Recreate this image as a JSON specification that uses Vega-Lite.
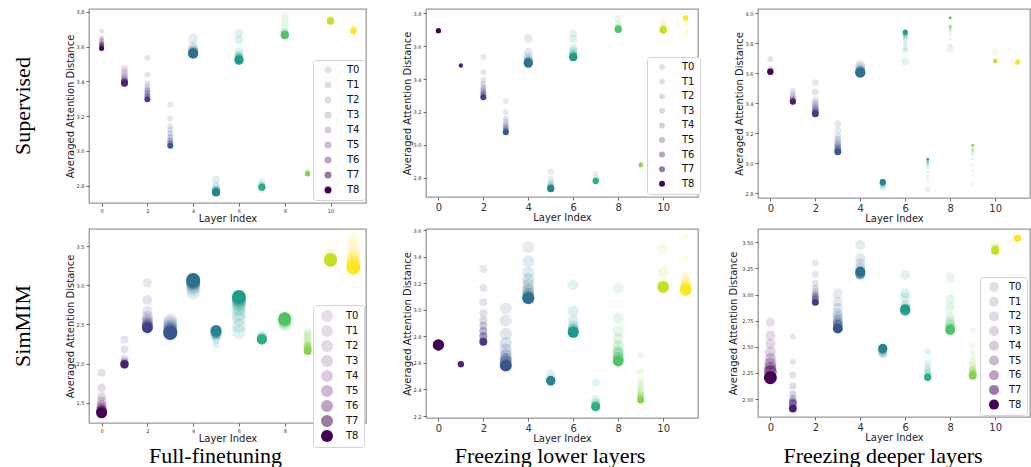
{
"$schema": "https://vega.github.io/schema/vega-lite/v6.json",
"background": "white",
"padding": {"left": 11, "top": 8, "right": 0, "bottom": 0},
"config": {
  "font": "DejaVu Sans",
  "view": {"stroke": "#9a9a9a", "strokeWidth": 1.3},
  "axis": {"domain": false, "grid": false, "tickColor": "#444", "tickSize": 3, "tickWidth": 0.8, "labelColor": "#333", "labelFontSize": 5, "labelPadding": 2, "titleFontSize": 10, "titleFontWeight": "normal", "titleColor": "#222", "titlePadding": 1},
  "legend": {"orient": "none", "strokeColor": "#d4d4d4", "fillColor": "white", "cornerRadius": 3, "padding": 5, "labelFontSize": 10, "labelColor": "#111", "symbolType": "circle", "symbolFillColor": "#440154", "symbolStrokeWidth": 0}
},
"resolve": {"scale": {"opacity": "independent", "color": "independent", "size": "independent"}, "legend": {"opacity": "independent"}},
"datasets": {
"p1": [
{"l":0,"t":"T0","d":3.69,"s":5},{"l":0,"t":"T1","d":3.65,"s":5},{"l":0,"t":"T2","d":3.64,"s":5},{"l":0,"t":"T3","d":3.63,"s":5},{"l":0,"t":"T4","d":3.62,"s":5},{"l":0,"t":"T5","d":3.615,"s":5},{"l":0,"t":"T6","d":3.61,"s":5},{"l":0,"t":"T7","d":3.6,"s":5},{"l":0,"t":"T8","d":3.59,"s":5},
{"l":1,"t":"T0","d":3.475,"s":7},{"l":1,"t":"T1","d":3.455,"s":7},{"l":1,"t":"T2","d":3.44,"s":7},{"l":1,"t":"T3","d":3.425,"s":7},{"l":1,"t":"T4","d":3.415,"s":7},{"l":1,"t":"T5","d":3.405,"s":7},{"l":1,"t":"T6","d":3.4,"s":7},{"l":1,"t":"T7","d":3.395,"s":7},{"l":1,"t":"T8","d":3.39,"s":7},
{"l":2,"t":"T0","d":3.537,"s":6},{"l":2,"t":"T1","d":3.44,"s":6},{"l":2,"t":"T2","d":3.39,"s":6},{"l":2,"t":"T3","d":3.37,"s":6},{"l":2,"t":"T4","d":3.355,"s":6},{"l":2,"t":"T5","d":3.345,"s":6},{"l":2,"t":"T6","d":3.33,"s":6},{"l":2,"t":"T7","d":3.315,"s":6},{"l":2,"t":"T8","d":3.298,"s":6},
{"l":3,"t":"T0","d":3.265,"s":6},{"l":3,"t":"T1","d":3.187,"s":6},{"l":3,"t":"T2","d":3.14,"s":6},{"l":3,"t":"T3","d":3.12,"s":6},{"l":3,"t":"T4","d":3.1,"s":6},{"l":3,"t":"T5","d":3.08,"s":6},{"l":3,"t":"T6","d":3.06,"s":6},{"l":3,"t":"T7","d":3.045,"s":6},{"l":3,"t":"T8","d":3.03,"s":6},
{"l":4,"t":"T0","d":3.645,"s":10},{"l":4,"t":"T1","d":3.6,"s":10},{"l":4,"t":"T2","d":3.585,"s":10},{"l":4,"t":"T3","d":3.575,"s":10},{"l":4,"t":"T4","d":3.57,"s":10},{"l":4,"t":"T5","d":3.567,"s":10},{"l":4,"t":"T6","d":3.565,"s":10},{"l":4,"t":"T7","d":3.562,"s":10},{"l":4,"t":"T8","d":3.56,"s":10},
{"l":5,"t":"T0","d":2.834,"s":8},{"l":5,"t":"T1","d":2.8,"s":8},{"l":5,"t":"T2","d":2.785,"s":8},{"l":5,"t":"T3","d":2.775,"s":8},{"l":5,"t":"T4","d":2.77,"s":8},{"l":5,"t":"T5","d":2.767,"s":8},{"l":5,"t":"T6","d":2.765,"s":8},{"l":5,"t":"T7","d":2.763,"s":8},{"l":5,"t":"T8","d":2.761,"s":8},
{"l":6,"t":"T0","d":3.677,"s":9},{"l":6,"t":"T1","d":3.639,"s":9},{"l":6,"t":"T2","d":3.57,"s":9},{"l":6,"t":"T3","d":3.55,"s":9},{"l":6,"t":"T4","d":3.54,"s":9},{"l":6,"t":"T5","d":3.535,"s":9},{"l":6,"t":"T6","d":3.53,"s":9},{"l":6,"t":"T7","d":3.525,"s":9},{"l":6,"t":"T8","d":3.522,"s":9},
{"l":7,"t":"T0","d":2.827,"s":7},{"l":7,"t":"T1","d":2.81,"s":7},{"l":7,"t":"T2","d":2.8,"s":7},{"l":7,"t":"T3","d":2.795,"s":7},{"l":7,"t":"T4","d":2.793,"s":7},{"l":7,"t":"T5","d":2.791,"s":7},{"l":7,"t":"T6","d":2.79,"s":7},{"l":7,"t":"T7","d":2.79,"s":7},{"l":7,"t":"T8","d":2.79,"s":7},
{"l":8,"t":"T0","d":3.767,"s":8},{"l":8,"t":"T1","d":3.723,"s":8},{"l":8,"t":"T2","d":3.685,"s":8},{"l":8,"t":"T3","d":3.68,"s":8},{"l":8,"t":"T4","d":3.675,"s":8},{"l":8,"t":"T5","d":3.672,"s":8},{"l":8,"t":"T6","d":3.67,"s":8},{"l":8,"t":"T7","d":3.668,"s":8},{"l":8,"t":"T8","d":3.666,"s":8},
{"l":9,"t":"T0","d":2.882,"s":5},{"l":9,"t":"T1","d":2.878,"s":5},{"l":9,"t":"T2","d":2.875,"s":5},{"l":9,"t":"T3","d":2.873,"s":5},{"l":9,"t":"T4","d":2.871,"s":5},{"l":9,"t":"T5","d":2.87,"s":5},{"l":9,"t":"T6","d":2.869,"s":5},{"l":9,"t":"T7","d":2.868,"s":5},{"l":9,"t":"T8","d":2.867,"s":5},
{"l":10,"t":"T0","d":3.76,"s":7},{"l":10,"t":"T1","d":3.755,"s":7},{"l":10,"t":"T2","d":3.752,"s":7},{"l":10,"t":"T3","d":3.75,"s":7},{"l":10,"t":"T4","d":3.749,"s":7},{"l":10,"t":"T5","d":3.748,"s":7},{"l":10,"t":"T6","d":3.748,"s":7},{"l":10,"t":"T7","d":3.748,"s":7},{"l":10,"t":"T8","d":3.748,"s":7},
{"l":11,"t":"T0","d":3.71,"s":6},{"l":11,"t":"T1","d":3.705,"s":6},{"l":11,"t":"T2","d":3.7,"s":6},{"l":11,"t":"T3","d":3.697,"s":6},{"l":11,"t":"T4","d":3.695,"s":6},{"l":11,"t":"T5","d":3.693,"s":6},{"l":11,"t":"T6","d":3.691,"s":6},{"l":11,"t":"T7","d":3.689,"s":6},{"l":11,"t":"T8","d":3.687,"s":6}
],
"p2": [
{"l":0,"t":"T0","d":3.694,"s":5},{"l":0,"t":"T1","d":3.694,"s":5},{"l":0,"t":"T2","d":3.694,"s":5},{"l":0,"t":"T3","d":3.694,"s":5},{"l":0,"t":"T4","d":3.694,"s":5},{"l":0,"t":"T5","d":3.694,"s":5},{"l":0,"t":"T6","d":3.694,"s":5},{"l":0,"t":"T7","d":3.694,"s":5},{"l":0,"t":"T8","d":3.694,"s":5},
{"l":1,"t":"T0","d":3.483,"s":4},{"l":1,"t":"T1","d":3.483,"s":4},{"l":1,"t":"T2","d":3.483,"s":4},{"l":1,"t":"T3","d":3.483,"s":4},{"l":1,"t":"T4","d":3.483,"s":4},{"l":1,"t":"T5","d":3.483,"s":4},{"l":1,"t":"T6","d":3.483,"s":4},{"l":1,"t":"T7","d":3.483,"s":4},{"l":1,"t":"T8","d":3.483,"s":4},
{"l":2,"t":"T0","d":3.536,"s":6},{"l":2,"t":"T1","d":3.443,"s":6},{"l":2,"t":"T2","d":3.395,"s":6},{"l":2,"t":"T3","d":3.37,"s":6},{"l":2,"t":"T4","d":3.35,"s":6},{"l":2,"t":"T5","d":3.335,"s":6},{"l":2,"t":"T6","d":3.32,"s":6},{"l":2,"t":"T7","d":3.305,"s":6},{"l":2,"t":"T8","d":3.289,"s":6},
{"l":3,"t":"T0","d":3.266,"s":6},{"l":3,"t":"T1","d":3.2,"s":6},{"l":3,"t":"T2","d":3.16,"s":6},{"l":3,"t":"T3","d":3.14,"s":6},{"l":3,"t":"T4","d":3.125,"s":6},{"l":3,"t":"T5","d":3.11,"s":6},{"l":3,"t":"T6","d":3.1,"s":6},{"l":3,"t":"T7","d":3.088,"s":6},{"l":3,"t":"T8","d":3.076,"s":6},
{"l":4,"t":"T0","d":3.648,"s":9},{"l":4,"t":"T1","d":3.563,"s":9},{"l":4,"t":"T2","d":3.537,"s":9},{"l":4,"t":"T3","d":3.52,"s":9},{"l":4,"t":"T4","d":3.512,"s":9},{"l":4,"t":"T5","d":3.506,"s":9},{"l":4,"t":"T6","d":3.502,"s":9},{"l":4,"t":"T7","d":3.499,"s":9},{"l":4,"t":"T8","d":3.496,"s":9},
{"l":5,"t":"T0","d":2.836,"s":7},{"l":5,"t":"T1","d":2.79,"s":7},{"l":5,"t":"T2","d":2.765,"s":7},{"l":5,"t":"T3","d":2.753,"s":7},{"l":5,"t":"T4","d":2.745,"s":7},{"l":5,"t":"T5","d":2.741,"s":7},{"l":5,"t":"T6","d":2.738,"s":7},{"l":5,"t":"T7","d":2.735,"s":7},{"l":5,"t":"T8","d":2.733,"s":7},
{"l":6,"t":"T0","d":3.678,"s":8},{"l":6,"t":"T1","d":3.643,"s":8},{"l":6,"t":"T2","d":3.59,"s":8},{"l":6,"t":"T3","d":3.57,"s":8},{"l":6,"t":"T4","d":3.556,"s":8},{"l":6,"t":"T5","d":3.548,"s":8},{"l":6,"t":"T6","d":3.54,"s":8},{"l":6,"t":"T7","d":3.536,"s":8},{"l":6,"t":"T8","d":3.532,"s":8},
{"l":7,"t":"T0","d":2.826,"s":6},{"l":7,"t":"T1","d":2.8,"s":6},{"l":7,"t":"T2","d":2.79,"s":6},{"l":7,"t":"T3","d":2.785,"s":6},{"l":7,"t":"T4","d":2.783,"s":6},{"l":7,"t":"T5","d":2.782,"s":6},{"l":7,"t":"T6","d":2.781,"s":6},{"l":7,"t":"T7","d":2.78,"s":6},{"l":7,"t":"T8","d":2.78,"s":6},
{"l":8,"t":"T0","d":3.769,"s":7},{"l":8,"t":"T1","d":3.735,"s":7},{"l":8,"t":"T2","d":3.715,"s":7},{"l":8,"t":"T3","d":3.71,"s":7},{"l":8,"t":"T4","d":3.707,"s":7},{"l":8,"t":"T5","d":3.705,"s":7},{"l":8,"t":"T6","d":3.704,"s":7},{"l":8,"t":"T7","d":3.703,"s":7},{"l":8,"t":"T8","d":3.702,"s":7},
{"l":9,"t":"T0","d":2.865,"s":4},{"l":9,"t":"T1","d":2.87,"s":4},{"l":9,"t":"T2","d":2.873,"s":4},{"l":9,"t":"T3","d":2.875,"s":4},{"l":9,"t":"T4","d":2.877,"s":4},{"l":9,"t":"T5","d":2.878,"s":4},{"l":9,"t":"T6","d":2.879,"s":4},{"l":9,"t":"T7","d":2.88,"s":4},{"l":9,"t":"T8","d":2.881,"s":4},
{"l":10,"t":"T0","d":3.745,"s":7},{"l":10,"t":"T1","d":3.72,"s":7},{"l":10,"t":"T2","d":3.71,"s":7},{"l":10,"t":"T3","d":3.705,"s":7},{"l":10,"t":"T4","d":3.702,"s":7},{"l":10,"t":"T5","d":3.7,"s":7},{"l":10,"t":"T6","d":3.699,"s":7},{"l":10,"t":"T7","d":3.698,"s":7},{"l":10,"t":"T8","d":3.698,"s":7},
{"l":11,"t":"T0","d":3.672,"s":7},{"l":11,"t":"T1","d":3.71,"s":6},{"l":11,"t":"T2","d":3.755,"s":5},{"l":11,"t":"T3","d":3.76,"s":5},{"l":11,"t":"T4","d":3.765,"s":5},{"l":11,"t":"T5","d":3.768,"s":5},{"l":11,"t":"T6","d":3.77,"s":5},{"l":11,"t":"T7","d":3.772,"s":5},{"l":11,"t":"T8","d":3.775,"s":5}
],
"p3": [
{"l":0,"t":"T0","d":3.694,"s":6},{"l":0,"t":"T1","d":3.627,"s":6},{"l":0,"t":"T2","d":3.62,"s":6},{"l":0,"t":"T3","d":3.615,"s":6},{"l":0,"t":"T4","d":3.613,"s":6},{"l":0,"t":"T5","d":3.611,"s":6},{"l":0,"t":"T6","d":3.61,"s":6},{"l":0,"t":"T7","d":3.61,"s":6},{"l":0,"t":"T8","d":3.609,"s":6},
{"l":1,"t":"T0","d":3.482,"s":6},{"l":1,"t":"T1","d":3.46,"s":6},{"l":1,"t":"T2","d":3.445,"s":6},{"l":1,"t":"T3","d":3.435,"s":6},{"l":1,"t":"T4","d":3.425,"s":6},{"l":1,"t":"T5","d":3.42,"s":6},{"l":1,"t":"T6","d":3.415,"s":6},{"l":1,"t":"T7","d":3.413,"s":6},{"l":1,"t":"T8","d":3.411,"s":6},
{"l":2,"t":"T0","d":3.538,"s":7},{"l":2,"t":"T1","d":3.476,"s":7},{"l":2,"t":"T2","d":3.42,"s":7},{"l":2,"t":"T3","d":3.4,"s":7},{"l":2,"t":"T4","d":3.385,"s":7},{"l":2,"t":"T5","d":3.37,"s":7},{"l":2,"t":"T6","d":3.355,"s":7},{"l":2,"t":"T7","d":3.343,"s":7},{"l":2,"t":"T8","d":3.331,"s":7},
{"l":3,"t":"T0","d":3.264,"s":7},{"l":3,"t":"T1","d":3.22,"s":7},{"l":3,"t":"T2","d":3.18,"s":7},{"l":3,"t":"T3","d":3.16,"s":7},{"l":3,"t":"T4","d":3.14,"s":7},{"l":3,"t":"T5","d":3.125,"s":7},{"l":3,"t":"T6","d":3.11,"s":7},{"l":3,"t":"T7","d":3.095,"s":7},{"l":3,"t":"T8","d":3.078,"s":7},
{"l":4,"t":"T0","d":3.656,"s":10},{"l":4,"t":"T1","d":3.64,"s":10},{"l":4,"t":"T2","d":3.628,"s":10},{"l":4,"t":"T3","d":3.62,"s":10},{"l":4,"t":"T4","d":3.615,"s":10},{"l":4,"t":"T5","d":3.61,"s":10},{"l":4,"t":"T6","d":3.608,"s":10},{"l":4,"t":"T7","d":3.606,"s":10},{"l":4,"t":"T8","d":3.604,"s":10},
{"l":5,"t":"T0","d":2.835,"s":6},{"l":5,"t":"T1","d":2.85,"s":6},{"l":5,"t":"T2","d":2.862,"s":6},{"l":5,"t":"T3","d":2.866,"s":6},{"l":5,"t":"T4","d":2.869,"s":6},{"l":5,"t":"T5","d":2.871,"s":6},{"l":5,"t":"T6","d":2.873,"s":6},{"l":5,"t":"T7","d":2.875,"s":6},{"l":5,"t":"T8","d":2.876,"s":6},
{"l":6,"t":"T0","d":3.678,"s":8},{"l":6,"t":"T1","d":3.754,"s":6},{"l":6,"t":"T2","d":3.77,"s":5},{"l":6,"t":"T3","d":3.8,"s":5},{"l":6,"t":"T4","d":3.83,"s":5},{"l":6,"t":"T5","d":3.85,"s":5},{"l":6,"t":"T6","d":3.86,"s":5},{"l":6,"t":"T7","d":3.87,"s":5},{"l":6,"t":"T8","d":3.876,"s":5},
{"l":7,"t":"T0","d":2.825,"s":6},{"l":7,"t":"T1","d":2.889,"s":3},{"l":7,"t":"T2","d":2.915,"s":3},{"l":7,"t":"T3","d":2.94,"s":3},{"l":7,"t":"T4","d":2.97,"s":3},{"l":7,"t":"T5","d":2.99,"s":3},{"l":7,"t":"T6","d":3.0,"s":3},{"l":7,"t":"T7","d":3.012,"s":3},{"l":7,"t":"T8","d":3.027,"s":3},
{"l":8,"t":"T0","d":3.764,"s":8},{"l":8,"t":"T1","d":3.79,"s":3},{"l":8,"t":"T2","d":3.83,"s":3},{"l":8,"t":"T3","d":3.86,"s":3},{"l":8,"t":"T4","d":3.88,"s":3},{"l":8,"t":"T5","d":3.895,"s":3},{"l":8,"t":"T6","d":3.905,"s":3},{"l":8,"t":"T7","d":3.914,"s":3},{"l":8,"t":"T8","d":3.971,"s":3},
{"l":9,"t":"T0","d":2.867,"s":5},{"l":9,"t":"T1","d":2.92,"s":3},{"l":9,"t":"T2","d":2.95,"s":3},{"l":9,"t":"T3","d":2.99,"s":3},{"l":9,"t":"T4","d":3.03,"s":3},{"l":9,"t":"T5","d":3.06,"s":3},{"l":9,"t":"T6","d":3.08,"s":3},{"l":9,"t":"T7","d":3.095,"s":3},{"l":9,"t":"T8","d":3.12,"s":3},
{"l":10,"t":"T0","d":3.744,"s":7},{"l":10,"t":"T1","d":3.69,"s":4},{"l":10,"t":"T2","d":3.686,"s":4},{"l":10,"t":"T3","d":3.684,"s":4},{"l":10,"t":"T4","d":3.683,"s":4},{"l":10,"t":"T5","d":3.682,"s":4},{"l":10,"t":"T6","d":3.681,"s":4},{"l":10,"t":"T7","d":3.68,"s":4},{"l":10,"t":"T8","d":3.68,"s":4},
{"l":11,"t":"T0","d":3.676,"s":5},{"l":11,"t":"T1","d":3.676,"s":5},{"l":11,"t":"T2","d":3.676,"s":5},{"l":11,"t":"T3","d":3.676,"s":5},{"l":11,"t":"T4","d":3.676,"s":5},{"l":11,"t":"T5","d":3.676,"s":5},{"l":11,"t":"T6","d":3.676,"s":5},{"l":11,"t":"T7","d":3.676,"s":5},{"l":11,"t":"T8","d":3.676,"s":5}
],
"p4": [
{"l":0,"t":"T0","d":1.882,"s":8},{"l":0,"t":"T1","d":1.69,"s":8.5},{"l":0,"t":"T2","d":1.575,"s":9},{"l":0,"t":"T3","d":1.52,"s":9.5},{"l":0,"t":"T4","d":1.47,"s":10},{"l":0,"t":"T5","d":1.44,"s":10},{"l":0,"t":"T6","d":1.41,"s":10.5},{"l":0,"t":"T7","d":1.39,"s":11},{"l":0,"t":"T8","d":1.371,"s":11},
{"l":1,"t":"T0","d":2.308,"s":8},{"l":1,"t":"T1","d":2.18,"s":8},{"l":1,"t":"T2","d":2.06,"s":8},{"l":1,"t":"T3","d":2.03,"s":8},{"l":1,"t":"T4","d":2.01,"s":8},{"l":1,"t":"T5","d":2.0,"s":8},{"l":1,"t":"T6","d":1.99,"s":8},{"l":1,"t":"T7","d":1.985,"s":8},{"l":1,"t":"T8","d":1.99,"s":8},
{"l":2,"t":"T0","d":3.031,"s":9},{"l":2,"t":"T1","d":2.81,"s":10},{"l":2,"t":"T2","d":2.67,"s":10},{"l":2,"t":"T3","d":2.6,"s":11},{"l":2,"t":"T4","d":2.56,"s":11},{"l":2,"t":"T5","d":2.53,"s":11},{"l":2,"t":"T6","d":2.5,"s":11},{"l":2,"t":"T7","d":2.48,"s":11},{"l":2,"t":"T8","d":2.457,"s":11},
{"l":3,"t":"T0","d":2.55,"s":14},{"l":3,"t":"T1","d":2.52,"s":14},{"l":3,"t":"T2","d":2.49,"s":14},{"l":3,"t":"T3","d":2.47,"s":14},{"l":3,"t":"T4","d":2.45,"s":14},{"l":3,"t":"T5","d":2.43,"s":14},{"l":3,"t":"T6","d":2.42,"s":14},{"l":3,"t":"T7","d":2.4,"s":14},{"l":3,"t":"T8","d":2.39,"s":14},
{"l":4,"t":"T0","d":2.904,"s":14},{"l":4,"t":"T1","d":2.95,"s":14},{"l":4,"t":"T2","d":2.98,"s":14},{"l":4,"t":"T3","d":3.0,"s":14},{"l":4,"t":"T4","d":3.02,"s":14},{"l":4,"t":"T5","d":3.03,"s":14},{"l":4,"t":"T6","d":3.04,"s":14},{"l":4,"t":"T7","d":3.05,"s":14},{"l":4,"t":"T8","d":3.066,"s":14},
{"l":5,"t":"T0","d":2.236,"s":7},{"l":5,"t":"T1","d":2.31,"s":9},{"l":5,"t":"T2","d":2.35,"s":10},{"l":5,"t":"T3","d":2.37,"s":10},{"l":5,"t":"T4","d":2.38,"s":11},{"l":5,"t":"T5","d":2.39,"s":11},{"l":5,"t":"T6","d":2.4,"s":11},{"l":5,"t":"T7","d":2.41,"s":11},{"l":5,"t":"T8","d":2.423,"s":11},
{"l":6,"t":"T0","d":2.402,"s":14},{"l":6,"t":"T1","d":2.48,"s":14},{"l":6,"t":"T2","d":2.57,"s":14},{"l":6,"t":"T3","d":2.63,"s":14},{"l":6,"t":"T4","d":2.7,"s":14},{"l":6,"t":"T5","d":2.75,"s":14},{"l":6,"t":"T6","d":2.79,"s":14},{"l":6,"t":"T7","d":2.82,"s":14},{"l":6,"t":"T8","d":2.849,"s":14},
{"l":7,"t":"T0","d":2.35,"s":10},{"l":7,"t":"T1","d":2.34,"s":10},{"l":7,"t":"T2","d":2.33,"s":10},{"l":7,"t":"T3","d":2.32,"s":10},{"l":7,"t":"T4","d":2.315,"s":10},{"l":7,"t":"T5","d":2.31,"s":10},{"l":7,"t":"T6","d":2.308,"s":10},{"l":7,"t":"T7","d":2.306,"s":10},{"l":7,"t":"T8","d":2.308,"s":10},
{"l":8,"t":"T0","d":2.49,"s":13},{"l":8,"t":"T1","d":2.51,"s":13},{"l":8,"t":"T2","d":2.53,"s":13},{"l":8,"t":"T3","d":2.54,"s":13},{"l":8,"t":"T4","d":2.55,"s":13},{"l":8,"t":"T5","d":2.56,"s":13},{"l":8,"t":"T6","d":2.565,"s":13},{"l":8,"t":"T7","d":2.57,"s":13},{"l":8,"t":"T8","d":2.571,"s":13},
{"l":9,"t":"T0","d":2.4,"s":8},{"l":9,"t":"T1","d":2.38,"s":8},{"l":9,"t":"T2","d":2.35,"s":8},{"l":9,"t":"T3","d":2.31,"s":8},{"l":9,"t":"T4","d":2.28,"s":8},{"l":9,"t":"T5","d":2.24,"s":8},{"l":9,"t":"T6","d":2.22,"s":8},{"l":9,"t":"T7","d":2.2,"s":8},{"l":9,"t":"T8","d":2.159,"s":8},
{"l":10,"t":"T0","d":3.394,"s":13},{"l":10,"t":"T1","d":3.35,"s":13},{"l":10,"t":"T2","d":3.33,"s":13},{"l":10,"t":"T3","d":3.325,"s":13},{"l":10,"t":"T4","d":3.322,"s":13},{"l":10,"t":"T5","d":3.32,"s":13},{"l":10,"t":"T6","d":3.32,"s":13},{"l":10,"t":"T7","d":3.32,"s":13},{"l":10,"t":"T8","d":3.321,"s":13},
{"l":11,"t":"T0","d":3.585,"s":12},{"l":11,"t":"T1","d":3.52,"s":12},{"l":11,"t":"T2","d":3.42,"s":13},{"l":11,"t":"T3","d":3.37,"s":13},{"l":11,"t":"T4","d":3.35,"s":13},{"l":11,"t":"T5","d":3.32,"s":14},{"l":11,"t":"T6","d":3.28,"s":14},{"l":11,"t":"T7","d":3.25,"s":14},{"l":11,"t":"T8","d":3.223,"s":14}
],
"p5": [
{"l":0,"t":"T0","d":2.735,"s":11},{"l":0,"t":"T1","d":2.735,"s":11},{"l":0,"t":"T2","d":2.735,"s":11},{"l":0,"t":"T3","d":2.735,"s":11},{"l":0,"t":"T4","d":2.735,"s":11},{"l":0,"t":"T5","d":2.735,"s":11},{"l":0,"t":"T6","d":2.735,"s":11},{"l":0,"t":"T7","d":2.735,"s":11},{"l":0,"t":"T8","d":2.735,"s":11},
{"l":1,"t":"T0","d":2.59,"s":6},{"l":1,"t":"T1","d":2.59,"s":6},{"l":1,"t":"T2","d":2.59,"s":6},{"l":1,"t":"T3","d":2.59,"s":6},{"l":1,"t":"T4","d":2.59,"s":6},{"l":1,"t":"T5","d":2.59,"s":6},{"l":1,"t":"T6","d":2.59,"s":6},{"l":1,"t":"T7","d":2.59,"s":6},{"l":1,"t":"T8","d":2.59,"s":6},
{"l":2,"t":"T0","d":3.307,"s":8},{"l":2,"t":"T1","d":3.166,"s":8},{"l":2,"t":"T2","d":3.056,"s":8},{"l":2,"t":"T3","d":2.974,"s":8},{"l":2,"t":"T4","d":2.92,"s":8},{"l":2,"t":"T5","d":2.88,"s":8},{"l":2,"t":"T6","d":2.84,"s":8},{"l":2,"t":"T7","d":2.8,"s":8},{"l":2,"t":"T8","d":2.76,"s":8},
{"l":3,"t":"T0","d":3.01,"s":12},{"l":3,"t":"T1","d":2.92,"s":12},{"l":3,"t":"T2","d":2.82,"s":12},{"l":3,"t":"T3","d":2.75,"s":12},{"l":3,"t":"T4","d":2.7,"s":12},{"l":3,"t":"T5","d":2.66,"s":12},{"l":3,"t":"T6","d":2.63,"s":12},{"l":3,"t":"T7","d":2.61,"s":12},{"l":3,"t":"T8","d":2.58,"s":12},
{"l":4,"t":"T0","d":3.47,"s":12},{"l":4,"t":"T1","d":3.366,"s":12},{"l":4,"t":"T2","d":3.28,"s":12},{"l":4,"t":"T3","d":3.23,"s":12},{"l":4,"t":"T4","d":3.19,"s":12},{"l":4,"t":"T5","d":3.15,"s":12},{"l":4,"t":"T6","d":3.12,"s":12},{"l":4,"t":"T7","d":3.1,"s":12},{"l":4,"t":"T8","d":3.087,"s":12},
{"l":5,"t":"T0","d":2.517,"s":9},{"l":5,"t":"T1","d":2.48,"s":9},{"l":5,"t":"T2","d":2.47,"s":9},{"l":5,"t":"T3","d":2.465,"s":9},{"l":5,"t":"T4","d":2.462,"s":9},{"l":5,"t":"T5","d":2.46,"s":9},{"l":5,"t":"T6","d":2.462,"s":9},{"l":5,"t":"T7","d":2.465,"s":9},{"l":5,"t":"T8","d":2.467,"s":9},
{"l":6,"t":"T0","d":3.187,"s":11},{"l":6,"t":"T1","d":2.99,"s":11},{"l":6,"t":"T2","d":2.92,"s":11},{"l":6,"t":"T3","d":2.88,"s":11},{"l":6,"t":"T4","d":2.86,"s":11},{"l":6,"t":"T5","d":2.85,"s":11},{"l":6,"t":"T6","d":2.84,"s":11},{"l":6,"t":"T7","d":2.83,"s":11},{"l":6,"t":"T8","d":2.83,"s":11},
{"l":7,"t":"T0","d":2.451,"s":9},{"l":7,"t":"T1","d":2.327,"s":9},{"l":7,"t":"T2","d":2.3,"s":9},{"l":7,"t":"T3","d":2.29,"s":9},{"l":7,"t":"T4","d":2.28,"s":9},{"l":7,"t":"T5","d":2.275,"s":9},{"l":7,"t":"T6","d":2.272,"s":9},{"l":7,"t":"T7","d":2.27,"s":9},{"l":7,"t":"T8","d":2.269,"s":9},
{"l":8,"t":"T0","d":3.162,"s":11},{"l":8,"t":"T1","d":2.936,"s":11},{"l":8,"t":"T2","d":2.84,"s":11},{"l":8,"t":"T3","d":2.78,"s":11},{"l":8,"t":"T4","d":2.73,"s":11},{"l":8,"t":"T5","d":2.69,"s":11},{"l":8,"t":"T6","d":2.67,"s":11},{"l":8,"t":"T7","d":2.64,"s":11},{"l":8,"t":"T8","d":2.615,"s":11},
{"l":9,"t":"T0","d":2.66,"s":7},{"l":9,"t":"T1","d":2.535,"s":7},{"l":9,"t":"T2","d":2.47,"s":7},{"l":9,"t":"T3","d":2.44,"s":7},{"l":9,"t":"T4","d":2.41,"s":7},{"l":9,"t":"T5","d":2.38,"s":7},{"l":9,"t":"T6","d":2.36,"s":7},{"l":9,"t":"T7","d":2.34,"s":7},{"l":9,"t":"T8","d":2.32,"s":7},
{"l":10,"t":"T0","d":3.463,"s":11},{"l":10,"t":"T1","d":3.287,"s":11},{"l":10,"t":"T2","d":3.2,"s":11},{"l":10,"t":"T3","d":3.18,"s":11},{"l":10,"t":"T4","d":3.17,"s":11},{"l":10,"t":"T5","d":3.165,"s":11},{"l":10,"t":"T6","d":3.165,"s":11},{"l":10,"t":"T7","d":3.17,"s":11},{"l":10,"t":"T8","d":3.174,"s":11},
{"l":11,"t":"T0","d":3.55,"s":6},{"l":11,"t":"T1","d":3.39,"s":7},{"l":11,"t":"T2","d":3.26,"s":8},{"l":11,"t":"T3","d":3.23,"s":9},{"l":11,"t":"T4","d":3.21,"s":10},{"l":11,"t":"T5","d":3.19,"s":10},{"l":11,"t":"T6","d":3.17,"s":11},{"l":11,"t":"T7","d":3.16,"s":11},{"l":11,"t":"T8","d":3.15,"s":12}
],
"p6": [
{"l":0,"t":"T0","d":2.734,"s":9},{"l":0,"t":"T1","d":2.61,"s":10},{"l":0,"t":"T2","d":2.53,"s":10},{"l":0,"t":"T3","d":2.45,"s":11},{"l":0,"t":"T4","d":2.39,"s":11},{"l":0,"t":"T5","d":2.34,"s":12},{"l":0,"t":"T6","d":2.3,"s":12},{"l":0,"t":"T7","d":2.26,"s":13},{"l":0,"t":"T8","d":2.204,"s":13},
{"l":1,"t":"T0","d":2.596,"s":6},{"l":1,"t":"T1","d":2.357,"s":6},{"l":1,"t":"T2","d":2.229,"s":7},{"l":1,"t":"T3","d":2.124,"s":7},{"l":1,"t":"T4","d":2.05,"s":7},{"l":1,"t":"T5","d":2.006,"s":7},{"l":1,"t":"T6","d":1.974,"s":8},{"l":1,"t":"T7","d":1.958,"s":8},{"l":1,"t":"T8","d":1.91,"s":8},
{"l":2,"t":"T0","d":3.305,"s":7},{"l":2,"t":"T1","d":3.193,"s":7},{"l":2,"t":"T2","d":3.107,"s":7},{"l":2,"t":"T3","d":3.06,"s":7},{"l":2,"t":"T4","d":3.027,"s":7},{"l":2,"t":"T5","d":3.0,"s":7},{"l":2,"t":"T6","d":2.98,"s":7},{"l":2,"t":"T7","d":2.96,"s":7},{"l":2,"t":"T8","d":2.925,"s":7},
{"l":3,"t":"T0","d":3.011,"s":10},{"l":3,"t":"T1","d":2.93,"s":10},{"l":3,"t":"T2","d":2.87,"s":10},{"l":3,"t":"T3","d":2.82,"s":10},{"l":3,"t":"T4","d":2.79,"s":10},{"l":3,"t":"T5","d":2.76,"s":10},{"l":3,"t":"T6","d":2.73,"s":10},{"l":3,"t":"T7","d":2.71,"s":10},{"l":3,"t":"T8","d":2.676,"s":10},
{"l":4,"t":"T0","d":3.474,"s":10},{"l":4,"t":"T1","d":3.347,"s":10},{"l":4,"t":"T2","d":3.3,"s":10},{"l":4,"t":"T3","d":3.26,"s":10},{"l":4,"t":"T4","d":3.23,"s":10},{"l":4,"t":"T5","d":3.2,"s":10},{"l":4,"t":"T6","d":3.19,"s":10},{"l":4,"t":"T7","d":3.2,"s":10},{"l":4,"t":"T8","d":3.219,"s":10},
{"l":5,"t":"T0","d":2.43,"s":9},{"l":5,"t":"T1","d":2.44,"s":9},{"l":5,"t":"T2","d":2.45,"s":9},{"l":5,"t":"T3","d":2.46,"s":9},{"l":5,"t":"T4","d":2.47,"s":9},{"l":5,"t":"T5","d":2.475,"s":9},{"l":5,"t":"T6","d":2.48,"s":9},{"l":5,"t":"T7","d":2.48,"s":9},{"l":5,"t":"T8","d":2.485,"s":9},
{"l":6,"t":"T0","d":3.187,"s":10},{"l":6,"t":"T1","d":3.011,"s":10},{"l":6,"t":"T2","d":2.97,"s":10},{"l":6,"t":"T3","d":2.9,"s":10},{"l":6,"t":"T4","d":2.87,"s":10},{"l":6,"t":"T5","d":2.85,"s":10},{"l":6,"t":"T6","d":2.84,"s":10},{"l":6,"t":"T7","d":2.845,"s":10},{"l":6,"t":"T8","d":2.86,"s":10},
{"l":7,"t":"T0","d":2.453,"s":7},{"l":7,"t":"T1","d":2.34,"s":7},{"l":7,"t":"T2","d":2.3,"s":7},{"l":7,"t":"T3","d":2.27,"s":7},{"l":7,"t":"T4","d":2.25,"s":7},{"l":7,"t":"T5","d":2.22,"s":7},{"l":7,"t":"T6","d":2.215,"s":7},{"l":7,"t":"T7","d":2.21,"s":7},{"l":7,"t":"T8","d":2.207,"s":7},
{"l":8,"t":"T0","d":3.162,"s":10},{"l":8,"t":"T1","d":2.957,"s":10},{"l":8,"t":"T2","d":2.884,"s":10},{"l":8,"t":"T3","d":2.788,"s":10},{"l":8,"t":"T4","d":2.74,"s":10},{"l":8,"t":"T5","d":2.71,"s":10},{"l":8,"t":"T6","d":2.68,"s":10},{"l":8,"t":"T7","d":2.67,"s":10},{"l":8,"t":"T8","d":2.66,"s":10},
{"l":9,"t":"T0","d":2.66,"s":6},{"l":9,"t":"T1","d":2.51,"s":6},{"l":9,"t":"T2","d":2.437,"s":6},{"l":9,"t":"T3","d":2.373,"s":7},{"l":9,"t":"T4","d":2.325,"s":7},{"l":9,"t":"T5","d":2.293,"s":7},{"l":9,"t":"T6","d":2.27,"s":7},{"l":9,"t":"T7","d":2.245,"s":8},{"l":9,"t":"T8","d":2.223,"s":8},
{"l":10,"t":"T0","d":3.474,"s":8},{"l":10,"t":"T1","d":3.45,"s":8},{"l":10,"t":"T2","d":3.44,"s":8},{"l":10,"t":"T3","d":3.435,"s":8},{"l":10,"t":"T4","d":3.43,"s":8},{"l":10,"t":"T5","d":3.425,"s":8},{"l":10,"t":"T6","d":3.423,"s":8},{"l":10,"t":"T7","d":3.42,"s":8},{"l":10,"t":"T8","d":3.42,"s":8},
{"l":11,"t":"T0","d":3.54,"s":7},{"l":11,"t":"T1","d":3.538,"s":7},{"l":11,"t":"T2","d":3.538,"s":7},{"l":11,"t":"T3","d":3.538,"s":7},{"l":11,"t":"T4","d":3.538,"s":7},{"l":11,"t":"T5","d":3.538,"s":7},{"l":11,"t":"T6","d":3.538,"s":7},{"l":11,"t":"T7","d":3.538,"s":7},{"l":11,"t":"T8","d":3.538,"s":7}
]
},
"columns": 3,
"spacing": {"row": 26, "column": 60},
"bounds": "flush",
"align": "each",
"concat": [
{
 "width": 277, "height": 194, "data": {"name": "p1"},
 "title": {"text": "Supervised", "orient": "left", "font": "Liberation Serif", "fontSize": 22, "fontWeight": "normal", "color": "black", "offset": 30},
 "mark": {"type": "circle", "color": "#440154", "strokeWidth": 0},
 "encoding": {
  "x": {"field": "l", "type": "quantitative", "scale": {"domain": [-0.55, 11.55], "nice": false, "zero": false}, "axis": {"values": [0,2,4,6,8,10], "title": "Layer Index", "titlePadding": 0}},
  "y": {"field": "d", "type": "quantitative", "scale": {"domain": [2.70, 3.817], "nice": false, "zero": false}, "axis": {"values": [2.8,3.0,3.2,3.4,3.6,3.8], "format": ".1f", "title": "Averaged Attention Distance"}},
  "color": {"field": "l", "type": "quantitative", "scale": {"scheme": "viridis", "domain": [0, 11]}, "legend": null},
  "size": {"field": "s", "type": "quantitative", "scale": {"type": "pow", "exponent": 2, "domain": [0, 20], "range": [0, 400]}, "legend": null},
  "opacity": {"field": "t", "type": "ordinal", "scale": {"type": "ordinal", "domain": ["T0","T1","T2","T3","T4","T5","T6","T7","T8"], "range": [0.13,0.14,0.15,0.17,0.2,0.27,0.36,0.53,1]}, "legend": {"title": null, "legendX": 224, "legendY": 51, "symbolSize": 49, "rowPadding": 5, "symbolOffset": 5, "labelOffset": 14}}
 }
},
{
 "width": 272, "height": 188, "data": {"name": "p2"},
 "mark": {"type": "circle", "color": "#440154", "strokeWidth": 0},
 "encoding": {
  "x": {"field": "l", "type": "quantitative", "scale": {"domain": [-0.55, 11.55], "nice": false, "zero": false}, "axis": {"values": [0,2,4,6,8,10], "title": "Layer Index", "labelFontSize": 10, "titlePadding": 0}},
  "y": {"field": "d", "type": "quantitative", "scale": {"domain": [2.683, 3.826], "nice": false, "zero": false}, "axis": {"values": [2.8,3.0,3.2,3.4,3.6,3.8], "format": ".1f", "title": "Averaged Attention Distance"}},
  "color": {"field": "l", "type": "quantitative", "scale": {"scheme": "viridis", "domain": [0, 11]}, "legend": null},
  "size": {"field": "s", "type": "quantitative", "scale": {"type": "pow", "exponent": 2, "domain": [0, 20], "range": [0, 400]}, "legend": null},
  "opacity": {"field": "t", "type": "ordinal", "scale": {"type": "ordinal", "domain": ["T0","T1","T2","T3","T4","T5","T6","T7","T8"], "range": [0.13,0.14,0.15,0.17,0.2,0.27,0.36,0.53,1]}, "legend": {"title": null, "legendX": 221, "legendY": 48, "symbolSize": 36, "rowPadding": 4.6, "symbolOffset": 5, "labelOffset": 15}}
 }
},
{
 "width": 272, "height": 189, "data": {"name": "p3"},
 "mark": {"type": "circle", "color": "#440154", "strokeWidth": 0},
 "encoding": {
  "x": {"field": "l", "type": "quantitative", "scale": {"domain": [-0.55, 11.55], "nice": false, "zero": false}, "axis": {"values": [0,2,4,6,8,10], "title": "Layer Index", "labelFontSize": 10, "titlePadding": 0}},
  "y": {"field": "d", "type": "quantitative", "scale": {"domain": [2.769, 4.029], "nice": false, "zero": false}, "axis": {"values": [2.8,3.0,3.2,3.4,3.6,3.8,4.0], "format": ".1f", "title": "Averaged Attention Distance"}},
  "color": {"field": "l", "type": "quantitative", "scale": {"scheme": "viridis", "domain": [0, 11]}, "legend": null},
  "size": {"field": "s", "type": "quantitative", "scale": {"type": "pow", "exponent": 2, "domain": [0, 20], "range": [0, 400]}, "legend": null},
  "opacity": {"field": "t", "type": "ordinal", "scale": {"type": "ordinal", "domain": ["T0","T1","T2","T3","T4","T5","T6","T7","T8"], "range": [0.13,0.14,0.15,0.17,0.2,0.27,0.36,0.53,1]}, "legend": null}
 }
},
{
 "width": 277, "height": 194, "data": {"name": "p4"},
 "title": {"text": "SimMIM", "orient": "left", "font": "Liberation Serif", "fontSize": 22, "fontWeight": "normal", "color": "black", "offset": 30},
 "mark": {"type": "circle", "color": "#440154", "strokeWidth": 0},
 "encoding": {
  "x": {"field": "l", "type": "quantitative", "scale": {"domain": [-0.55, 11.55], "nice": false, "zero": false}, "axis": {"values": [0,2,4,6,8,10], "title": "Layer Index", "titlePadding": 0}},
  "y": {"field": "d", "type": "quantitative", "scale": {"domain": [1.241, 3.717], "nice": false, "zero": false}, "axis": {"values": [1.5,2.0,2.5,3.0,3.5], "format": ".1f", "title": "Averaged Attention Distance"}},
  "color": {"field": "l", "type": "quantitative", "scale": {"scheme": "viridis", "domain": [0, 11]}, "legend": null},
  "size": {"field": "s", "type": "quantitative", "scale": {"type": "pow", "exponent": 2, "domain": [0, 20], "range": [0, 400]}, "legend": null},
  "opacity": {"field": "t", "type": "ordinal", "scale": {"type": "ordinal", "domain": ["T0","T1","T2","T3","T4","T5","T6","T7","T8"], "range": [0.13,0.14,0.15,0.17,0.2,0.27,0.36,0.53,1]}, "legend": {"title": null, "legendX": 224, "legendY": 76, "symbolSize": 144, "rowPadding": 3, "symbolOffset": 3, "labelOffset": 13}}
 }
},
{
 "width": 272, "height": 189, "data": {"name": "p5"},
 "mark": {"type": "circle", "color": "#440154", "strokeWidth": 0},
 "encoding": {
  "x": {"field": "l", "type": "quantitative", "scale": {"domain": [-0.55, 11.55], "nice": false, "zero": false}, "axis": {"values": [0,2,4,6,8,10], "title": "Layer Index", "labelFontSize": 10, "titlePadding": 0}},
  "y": {"field": "d", "type": "quantitative", "scale": {"domain": [2.185, 3.608], "nice": false, "zero": false}, "axis": {"values": [2.2,2.4,2.6,2.8,3.0,3.2,3.4,3.6], "format": ".1f", "title": "Averaged Attention Distance"}},
  "color": {"field": "l", "type": "quantitative", "scale": {"scheme": "viridis", "domain": [0, 11]}, "legend": null},
  "size": {"field": "s", "type": "quantitative", "scale": {"type": "pow", "exponent": 2, "domain": [0, 20], "range": [0, 400]}, "legend": null},
  "opacity": {"field": "t", "type": "ordinal", "scale": {"type": "ordinal", "domain": ["T0","T1","T2","T3","T4","T5","T6","T7","T8"], "range": [0.13,0.14,0.15,0.17,0.2,0.27,0.36,0.53,1]}, "legend": null}
 }
},
{
 "width": 272, "height": 188, "data": {"name": "p6"},
 "mark": {"type": "circle", "color": "#440154", "strokeWidth": 0},
 "encoding": {
  "x": {"field": "l", "type": "quantitative", "scale": {"domain": [-0.55, 11.55], "nice": false, "zero": false}, "axis": {"values": [0,2,4,6,8,10], "title": "Layer Index", "labelFontSize": 10, "titlePadding": 0}},
  "y": {"field": "d", "type": "quantitative", "scale": {"domain": [1.828, 3.627], "nice": false, "zero": false}, "axis": {"values": [2.0,2.25,2.5,2.75,3.0,3.25,3.5], "format": ".2f", "title": "Averaged Attention Distance", "titlePadding": 3}},
  "color": {"field": "l", "type": "quantitative", "scale": {"scheme": "viridis", "domain": [0, 11]}, "legend": null},
  "size": {"field": "s", "type": "quantitative", "scale": {"type": "pow", "exponent": 2, "domain": [0, 20], "range": [0, 400]}, "legend": null},
  "opacity": {"field": "t", "type": "ordinal", "scale": {"type": "ordinal", "domain": ["T0","T1","T2","T3","T4","T5","T6","T7","T8"], "range": [0.13,0.14,0.15,0.17,0.2,0.27,0.36,0.53,1]}, "legend": {"title": null, "legendX": 222, "legendY": 48, "symbolSize": 100, "rowPadding": 4.7, "symbolOffset": 4, "labelOffset": 10}}
 }
},
{
 "width": 277, "height": 1, "data": {"values": []}, "mark": "point", "view": {"stroke": null},
 "title": {"text": "Full-finetuning", "orient": "bottom", "font": "Liberation Serif", "fontSize": 22, "fontWeight": "normal", "color": "black", "dx": -12, "offset": -4}
},
{
 "width": 272, "height": 1, "data": {"values": []}, "mark": "point", "view": {"stroke": null},
 "title": {"text": "Freezing lower layers", "orient": "bottom", "font": "Liberation Serif", "fontSize": 22, "fontWeight": "normal", "color": "black", "dx": -12, "offset": -4}
},
{
 "width": 272, "height": 1, "data": {"values": []}, "mark": "point", "view": {"stroke": null},
 "title": {"text": "Freezing deeper layers", "orient": "bottom", "font": "Liberation Serif", "fontSize": 22, "fontWeight": "normal", "color": "black", "dx": -11, "offset": -4}
}
]
}
